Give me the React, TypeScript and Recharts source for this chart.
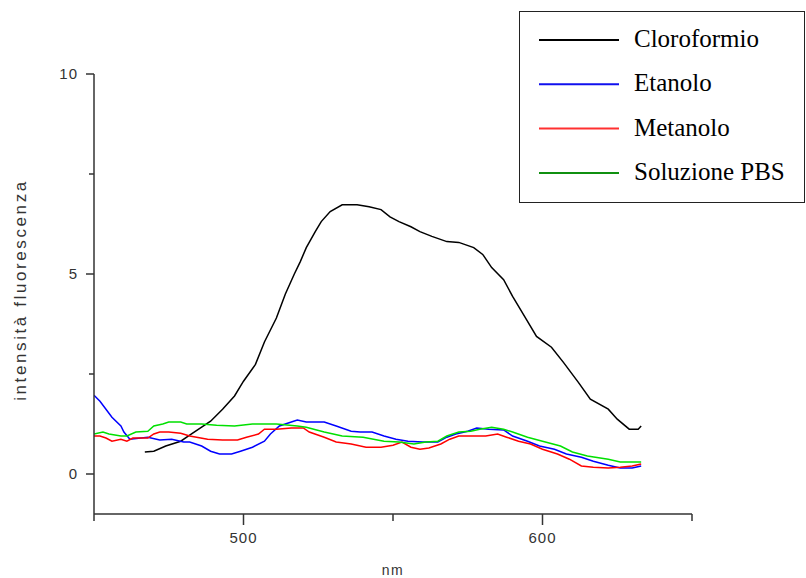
import React from "react";
import { LineChart, Line, XAxis, YAxis, Legend, Label } from "recharts";

// spectra (nm -> intensity)
const cloroformioNm = [467, 470, 474, 479, 482, 486, 489, 493, 497, 500, 504, 507, 511, 514, 517, 519, 521, 524, 526, 529, 533, 538, 542, 546, 549, 552, 556, 559, 563, 568, 572, 577, 580, 583, 587, 590, 594, 598, 603, 607, 612, 616, 622, 625, 629, 632, 633];
const cloroformioVal = [0.55, 0.57, 0.7, 0.82, 0.97, 1.17, 1.32, 1.62, 1.95, 2.32, 2.74, 3.3, 3.9, 4.5, 5.0, 5.31, 5.66, 6.06, 6.31, 6.56, 6.73, 6.73, 6.68, 6.61, 6.43, 6.31, 6.18, 6.06, 5.94, 5.81, 5.79, 5.66, 5.49, 5.16, 4.86, 4.44, 3.94, 3.44, 3.17, 2.79, 2.29, 1.87, 1.62, 1.37, 1.12, 1.12, 1.2];

const etanoloNm = [450, 452, 454, 456, 459, 460, 462, 468, 472, 476, 480, 482, 486, 489, 492, 496, 499, 503, 507, 509, 512, 516, 518, 521, 527, 531, 536, 539, 543, 547, 551, 555, 560, 565, 568, 571, 575, 578, 582, 587, 590, 595, 599, 604, 608, 613, 617, 622, 626, 630, 633];
const etanoloVal = [1.97, 1.82, 1.62, 1.42, 1.2, 1.05, 0.87, 0.92, 0.85, 0.87, 0.8, 0.8, 0.7, 0.57, 0.5, 0.5, 0.57, 0.67, 0.82, 1.0, 1.2, 1.3, 1.35, 1.3, 1.3, 1.2, 1.07, 1.05, 1.05, 0.95, 0.87, 0.82, 0.8, 0.8, 0.92, 1.0, 1.07, 1.15, 1.12, 1.1, 0.95, 0.82, 0.7, 0.62, 0.5, 0.42, 0.32, 0.22, 0.15, 0.15, 0.2];

const metanoloNm = [450, 452, 454, 456, 459, 461, 463, 468, 470, 472, 475, 479, 482, 488, 493, 498, 501, 505, 507, 511, 516, 520, 522, 527, 531, 536, 541, 546, 550, 553, 556, 559, 562, 566, 569, 572, 577, 581, 585, 588, 592, 596, 600, 605, 609, 613, 617, 622, 626, 630, 633];
const metanoloVal = [0.95, 0.95, 0.9, 0.82, 0.87, 0.82, 0.9, 0.9, 1.0, 1.05, 1.05, 1.02, 0.95, 0.87, 0.85, 0.85, 0.92, 1.0, 1.12, 1.12, 1.15, 1.15, 1.05, 0.92, 0.8, 0.75, 0.67, 0.67, 0.72, 0.8, 0.67, 0.62, 0.65, 0.75, 0.87, 0.95, 0.95, 0.95, 1.0, 0.92, 0.82, 0.75, 0.62, 0.5, 0.37, 0.2, 0.17, 0.15, 0.17, 0.2, 0.25];

const pbsNm = [450, 453, 455, 459, 461, 464, 468, 470, 473, 475, 479, 481, 486, 491, 497, 503, 511, 518, 521, 527, 533, 540, 547, 552, 557, 561, 565, 568, 572, 576, 579, 583, 587, 590, 595, 600, 606, 610, 615, 622, 626, 633];
const pbsVal = [1.0, 1.05, 1.0, 0.95, 0.95, 1.05, 1.07, 1.2, 1.25, 1.3, 1.3, 1.25, 1.25, 1.22, 1.2, 1.25, 1.25, 1.2, 1.17, 1.05, 0.95, 0.92, 0.82, 0.8, 0.75, 0.8, 0.82, 0.95, 1.05, 1.07, 1.12, 1.17, 1.12, 1.05, 0.92, 0.82, 0.7, 0.55, 0.45, 0.37, 0.3, 0.3];

const xTicks = [450, 500, 550, 600, 650];
const xLabels = [500, 600];
const yTicks = [0, 2.5, 5, 7.5, 10];
const yLabels = [0, 5, 10];

const toPoints = (nm: number[], val: number[]) => nm.map((x, i) => ({ nm: x, v: val[i] }));

const series = [
  { name: "Cloroformio", color: "#000000", legend: "#000000", data: toPoints(cloroformioNm, cloroformioVal) },
  { name: "Etanolo", color: "#0000ff", legend: "#1010ee", data: toPoints(etanoloNm, etanoloVal) },
  { name: "Metanolo", color: "#ff0000", legend: "#ff3030", data: toPoints(metanoloNm, metanoloVal) },
  { name: "Soluzione PBS", color: "#00e000", legend: "#109010", data: toPoints(pbsNm, pbsVal) },
];

const axisColor = "#333";
const sans = "'Liberation Sans', Arial, sans-serif";

const XTick = (props: any) => {
  const { x, y, payload } = props;
  const major = xLabels.includes(payload.value);
  return (
    <g>
      <line x1={x} x2={x} y1={y} y2={y + (major ? 11 : 7)} stroke={axisColor} strokeWidth={1.5} />
      {major && (
        <text x={x} y={y + 29} textAnchor="middle" fill="#333" fontSize={15} fontFamily={sans} letterSpacing={1}>
          {payload.value}
        </text>
      )}
    </g>
  );
};

const YTick = (props: any) => {
  const { x, y, payload } = props;
  const major = yLabels.includes(payload.value);
  return (
    <g>
      <line x1={x - (major ? 8 : 5)} x2={x} y1={y} y2={y} stroke={axisColor} strokeWidth={1.5} />
      {major && (
        <text x={x - 16} y={y + 5} textAnchor="end" fill="#333" fontSize={15} fontFamily={sans} letterSpacing={1}>
          {payload.value}
        </text>
      )}
    </g>
  );
};

const YTitle = (props: any) => {
  const vb = props.viewBox || { x: 0, y: 74, width: 94, height: 440 };
  const cx = vb.x + 20;
  const cy = vb.y + vb.height / 2 - 4;
  return (
    <text
      x={cx}
      y={cy}
      transform={`rotate(-90 ${cx} ${cy})`}
      textAnchor="middle"
      dominantBaseline="central"
      fill="#333"
      fontSize={17}
      fontFamily={sans}
      letterSpacing={2.6}
    >
      intensità fluorescenza
    </text>
  );
};

const XTitle = (props: any) => {
  const vb = props.viewBox || { x: 94, y: 514, width: 598, height: 40 };
  return (
    <text
      x={vb.x + vb.width / 2}
      y={vb.y + vb.height + 21}
      textAnchor="middle"
      fill="#333"
      fontSize={14}
      fontFamily={sans}
      letterSpacing={1.5}
    >
      nm
    </text>
  );
};

const LegendBox = () => (
  <svg width={286} height={192} style={{ display: "block" }}>
    <rect x={0.5} y={0.5} width={285} height={191} fill="#fff" stroke="#222" />
    {series.map((s, i) => {
      const y = 29 + i * 44.3;
      return (
        <g key={s.name}>
          <line x1={20} x2={100} y1={y} y2={y} stroke={s.legend} strokeWidth={2} />
          <text x={115} y={y + 7} fontSize={25} fontFamily="'Liberation Serif', 'Times New Roman', serif" fill="#000">
            {s.name}
          </text>
        </g>
      );
    })}
  </svg>
);

export default function App() {
  return (
    <div style={{ position: "absolute", left: 0, top: 0, width: 806, height: 578, background: "#fff" }}>
      <LineChart width={806} height={578} margin={{ top: 74, right: 114, bottom: 24, left: 0 }}>
        <XAxis
          type="number"
          dataKey="nm"
          domain={[450, 650]}
          ticks={xTicks}
          interval={0}
          allowDataOverflow
          height={40}
          tickSize={0}
          tickMargin={0}
          tickLine={false}
          tick={<XTick />}
          axisLine={{ stroke: axisColor, strokeWidth: 1.5 }}
        >
          <Label content={<XTitle />} />
        </XAxis>
        <YAxis
          type="number"
          domain={[-1, 10]}
          ticks={yTicks}
          interval={0}
          allowDataOverflow
          width={94}
          tickSize={0}
          tickMargin={0}
          tickLine={false}
          tick={<YTick />}
          axisLine={{ stroke: axisColor, strokeWidth: 1.5 }}
        >
          <Label content={<YTitle />} />
        </YAxis>
        <Legend
          layout="vertical"
          align="center"
          verticalAlign="middle"
          wrapperStyle={{ left: 519, top: 11, width: 286, height: 192 }}
          content={<LegendBox />}
        />
        {series.map((s) => (
          <Line
            key={s.name}
            data={s.data}
            dataKey="v"
            name={s.name}
            type="linear"
            stroke={s.color}
            strokeWidth={1.5}
            dot={false}
            isAnimationActive={false}
          />
        ))}
      </LineChart>
    </div>
  );
}
